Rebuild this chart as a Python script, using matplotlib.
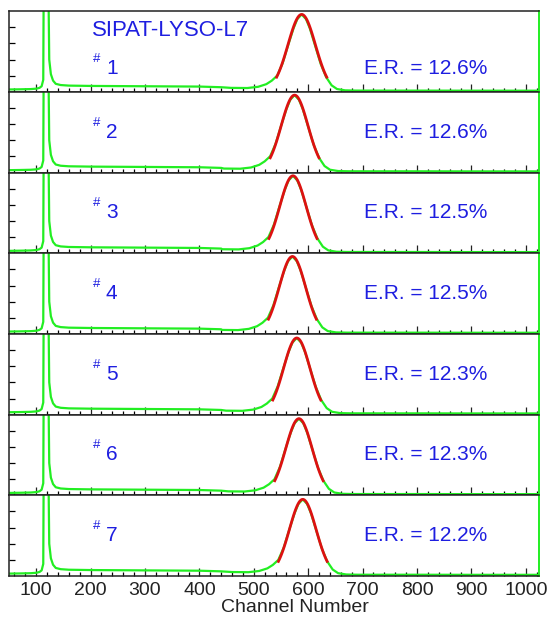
import matplotlib
matplotlib.use("Agg")
import matplotlib.pyplot as plt
from matplotlib.ticker import MultipleLocator
import numpy as np

plt.rcParams['font.family'] = ['Liberation Sans', 'DejaVu Sans']

# one spectrum per crystal readout
panel_ids = ["1", "2", "3", "4", "5", "6", "7"]
er_values = [12.6, 12.6, 12.5, 12.5, 12.3, 12.3, 12.2]
peak_channels = [588, 575, 572, 571, 579, 583, 590]
peak_heights = [0.96, 0.96, 0.96, 0.96, 0.95, 0.95, 0.95]
pedestal = 115

# low-energy part (pedestal spike + continuum), shared shape
cont_ch = [50, 70, 90, 100, 106, 110, 113, 114, 122, 124, 127, 131, 136, 145,
           160, 200, 250, 300, 350, 400, 440]
cont_y = [0.03, 0.032, 0.035, 0.04, 0.05, 0.07, 0.15, 1.6, 1.6, 0.4, 0.22,
          0.14, 0.1, 0.085, 0.078, 0.074, 0.072, 0.07, 0.068, 0.066, 0.058]

# photopeak region, offsets from the peak channel, relative to peak height
peak_off = [-130, -100, -80, -65, -55, -45, -35, -25, -15, -8, 0,
            8, 15, 25, 35, 45, 55, 65, 80, 100]
peak_rel = [0.052, 0.05, 0.066, 0.1, 0.145, 0.21, 0.37, 0.6, 0.82, 0.94, 1.0,
            0.94, 0.82, 0.59, 0.36, 0.19, 0.085, 0.037, 0.02, 0.017]

# high-energy tail
tail_ch = [720, 800, 900, 1000, 1024]
tail_y = [0.016, 0.016, 0.015, 0.015, 0.015]

green = "#22ee22"
red = "#dd1111"
blue = "#1e1ee0"

fig, axes = plt.subplots(7, 1, sharex=True, figsize=(5.51, 6.23), dpi=100)
fig.subplots_adjust(left=0.0163, right=0.978, bottom=0.0754, top=0.982, hspace=0)

for i, ax in enumerate(axes):
    pk = peak_channels[i]
    h = peak_heights[i]
    xs = [c for c in cont_ch if c < pk + peak_off[0]]
    ys = [y for c, y in zip(cont_ch, cont_y) if c < pk + peak_off[0]]
    xs += [pk + o for o in peak_off]
    ys += [h * r for r in peak_rel]
    xs += [c for c in tail_ch if c > pk + peak_off[-1]]
    ys += [y for c, y in zip(tail_ch, tail_y) if c > pk + peak_off[-1]]
    ax.plot(xs, ys, color=green, lw=1.6)

    # gaussian fit, E.R. = FWHM / (peak - pedestal)
    sigma = er_values[i] / 100 * (pk - pedestal) / 2.355
    fx = np.linspace(pk - 1.82 * sigma, pk + 1.82 * sigma, 100)
    ax.plot(fx, h * np.exp(-0.5 * ((fx - pk) / sigma) ** 2), color=red, lw=2.0)

    ax.set_xlim(50, 1024)
    ax.set_ylim(0, 1.0)
    ax.set_yticks([0.2, 0.4, 0.6, 0.8])
    ax.set_yticklabels([])
    ax.xaxis.set_major_locator(MultipleLocator(100))
    ax.xaxis.set_minor_locator(MultipleLocator(20))
    ax.tick_params(axis="x", which="major", direction="in", length=6, width=0.9,
                   top=False, labelsize=14, pad=4, colors="#222222")
    ax.tick_params(axis="x", which="minor", direction="in", length=3, width=0.9, top=False)
    ax.tick_params(axis="y", direction="in", length=4, width=0.9, right=False)
    for s in ["left", "top", "bottom"]:
        ax.spines[s].set_color("#222222")
        ax.spines[s].set_linewidth(1.1)
    ax.spines["right"].set_color(green)
    ax.spines["right"].set_linewidth(1.4)

    ty = 0.29 if i == 0 else 0.5
    ax.text(0.159, ty + 0.12, "#", transform=ax.transAxes, color=blue,
            fontsize=9.5, ha="left", va="center")
    ax.text(0.183, ty, panel_ids[i], transform=ax.transAxes, color=blue,
            fontsize=15, ha="left", va="center")
    ax.text(0.67, ty, f"E.R. = {er_values[i]:.1f}%", transform=ax.transAxes,
            color=blue, fontsize=15, ha="left", va="center")

axes[0].text(0.157, 0.76, "SIPAT-LYSO-L7", transform=axes[0].transAxes,
             color=blue, fontsize=16, ha="left", va="center")

axes[-1].set_xlabel("Channel Number", fontsize=14, color="#222222", labelpad=1)
axes[-1].xaxis.set_label_coords(0.54, -0.28)

fig.savefig("out.png", dpi=100)
